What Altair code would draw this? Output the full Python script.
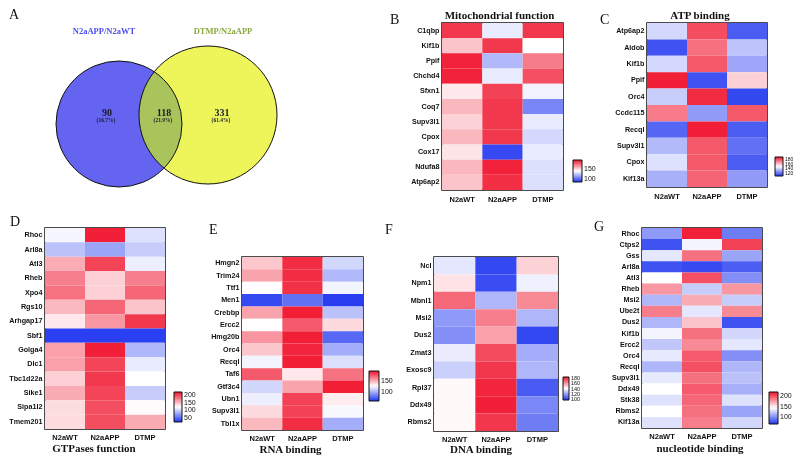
import altair as alt
import pandas as pd

SANS = "Liberation Sans"
SERIF = "Liberation Serif"
BLUE = "#1f35f0"
RED = "#f0142d"
INK = "#111111"

GROUPS = ["N2aWT", "N2aAPP", "DTMP"]

# ---------------- Venn (panel A) ----------------
VENN_SETS = ["N2aAPP/N2aWT", "DTMP/N2aAPP"]
VENN_SET_COLORS = ["#4d4df2", "#8da83f"]
VENN_COUNTS = ["90", "118", "331"]
VENN_PCTS = ["(16.7%)", "(21.9%)", "(61.4%)"]

# ---------------- heatmap values ----------------
B_GENES = ["C1qbp", "Kif1b", "Ppif", "Chchd4", "Sfxn1", "Coq7", "Supv3l1", "Cpox", "Cox17", "Ndufa8", "Atp6ap2"]
B_WT = [183, 152, 188, 188, 144, 155, 149, 155, 145, 155, 152]
B_APP = [134, 183, 121, 134, 181, 183, 183, 183, 92, 188, 185]
B_DTMP = [183, 139, 168, 178, 136, 108, 134, 129, 134, 131, 131]
B_RANGE = [87, 191]
B_TICKS = [100, 150]

C_GENES = ["Atp6ap2", "Aldob", "Kif1b", "Ppif", "Orc4", "Ccdc115", "Recql", "Supv3l1", "Cpox", "Kif13a"]
C_WT = [140, 113, 140, 187, 138, 171, 117, 134, 142, 132]
C_APP = [179, 173, 177, 113, 185, 128, 187, 177, 177, 175]
C_DTMP = [115, 136, 130, 156, 111, 177, 115, 119, 115, 128]
C_RANGE = [107, 189]
C_TICKS = [120, 140, 160, 180]

D_GENES = ["Rhoc", "Arl8a", "Atl3", "Rheb", "Xpo4", "Rgs10", "Arhgap17", "Sbf1", "Golga4", "Dlc1",
           "Tbc1d22a", "Sike1", "Sipa1l2", "Tmem201"]
D_WT = [118, 93, 157, 176, 181, 152, 132, 30, 162, 162, 142, 157, 137, 137]
D_APP = [215, 79, 200, 142, 142, 186, 166, 30, 215, 200, 205, 200, 196, 196]
D_DTMP = [108, 98, 115, 176, 186, 147, 205, 30, 88, 113, 122, 98, 124, 157]
D_RANGE = [25, 220]
D_TICKS = [50, 100, 150, 200]

E_GENES = ["Hmgn2", "Trim24", "Ttf1", "Men1", "Crebbp", "Ercc2", "Hmg20b", "Orc4", "Recql", "Taf6",
           "Gtf3c4", "Ubn1", "Supv3l1", "Tbl1x"]
E_WT = [144, 154, 128, 67, 154, 128, 158, 144, 124, 175, 114, 122, 138, 148]
E_APP = [188, 188, 187, 80, 192, 175, 192, 190, 192, 134, 154, 182, 182, 188]
E_DTMP = [114, 104, 124, 63, 107, 138, 77, 100, 117, 168, 192, 133, 125, 100]
E_RANGE = [60, 195]
E_TICKS = [100, 150]

F_GENES = ["Ncl", "Npm1", "Mbnl1", "Msi2", "Dus2", "Zmat3", "Exosc9", "Rpl37", "Ddx49", "Rbms2"]
F_WT = [135, 145, 167, 119, 117, 136, 130, 141, 141, 141]
F_APP = [102, 103, 125, 163, 157, 172, 176, 179, 180, 176]
F_DTMP = [148, 137, 161, 125, 102, 123, 125, 106, 115, 113]
F_RANGE = [98, 182]
F_TICKS = [100, 120, 140, 160, 180]

G_GENES = ["Rhoc", "Ctps2", "Gss", "Arl8a", "Atl3", "Rheb", "Msi2", "Ube2t", "Dus2", "Kif1b", "Ercc2",
           "Orc4", "Recql", "Supv3l1", "Ddx49", "Stk38", "Rbms2", "Kif13a"]
G_WT = [105, 78, 134, 78, 143, 177, 116, 185, 116, 139, 122, 135, 116, 135, 143, 132, 143, 132]
G_APP = [215, 139, 189, 75, 200, 124, 170, 134, 162, 189, 181, 196, 200, 189, 196, 192, 189, 185]
G_DTMP = [94, 204, 109, 82, 101, 177, 124, 181, 78, 128, 134, 101, 116, 120, 113, 132, 109, 128]
G_RANGE = [67, 219]
G_TICKS = [100, 150, 200]

# ---------------- layout constants (pixels) ----------------
VENN_W, VENN_H = 342, 167
VENN_CX = [74, 163]
VENN_CY = [101, 92]
VENN_R = [63, 69]
VENN_LABEL_XY = [(59, 8), (178, 8)]
VENN_COUNT_XY = [(62, 90), (119, 90), (177, 90)]


def letter(ch, x, y):
    return alt.Chart(pd.DataFrame({"t": [ch]})).mark_text(
        font=SERIF, fontSize=14, align="left", baseline="alphabetic", color=INK
    ).encode(text="t:N", x=alt.value(x), y=alt.value(y))


def title_mark(text, x, y):
    return alt.Chart(pd.DataFrame({"t": [text]})).mark_text(
        font=SERIF, fontSize=11, fontWeight="bold", align="center", baseline="alphabetic",
        color=INK
    ).encode(text="t:N", x=alt.value(x), y=alt.value(y))


def heatmap(genes, wt, app, dtmp, rng, ticks, w, h, title, leg, letters=(),
            title_y=-4, title_dx=0, xpad=5):
    n = len(genes)
    df = pd.DataFrame({
        "gene": list(genes) * 3,
        "group": [g for g in GROUPS for _ in range(n)],
        "value": list(wt) + list(app) + list(dtmp),
    })
    lo, hi = rng
    glen, thick, lx, gap, lfs = leg
    cells = alt.Chart(df).mark_rect().encode(
        x=alt.X("group:N", sort=GROUPS, title=None,
                axis=alt.Axis(orient="bottom", labelAngle=0, domain=False, ticks=False,
                              labelPadding=xpad, labelFont=SANS, labelFontSize=7.5,
                              labelFontWeight="bold", labelColor=INK)),
        y=alt.Y("gene:N", sort=list(genes), title=None,
                axis=alt.Axis(domain=False, ticks=False, labelPadding=3, labelFont=SANS,
                              labelFontSize=7.2, labelFontWeight="bold", labelColor=INK)),
        color=alt.Color("value:Q",
                        scale=alt.Scale(domain=[lo, (lo + hi) / 2, hi],
                                        range=[BLUE, "#ffffff", RED], interpolate="rgb"),
                        legend=alt.Legend(orient="none", legendX=w + lx, legendY=h - gap - glen,
                                          direction="vertical", gradientLength=glen,
                                          gradientThickness=thick, gradientStrokeColor=INK,
                                          gradientStrokeWidth=1, values=ticks,
                                          labelFontSize=lfs, labelFont=SANS, labelColor=INK,
                                          labelOverlap=False, labelPadding=2, title=None,
                                          padding=0)),
    )
    layers = [cells, title_mark(title, w / 2 + title_dx, title_y)] + [letter(*l) for l in letters]
    return alt.layer(*layers).properties(
        width=w, height=h,
        view=alt.ViewBackground(stroke=INK, strokeWidth=1.5),
    )


def spacer(w, h, letters=()):
    base = alt.Chart(pd.DataFrame({"s": [0]})).mark_point(opacity=0, size=1).encode(
        x=alt.value(1), y=alt.value(1))
    return alt.layer(base, *[letter(*l) for l in letters]).properties(width=w, height=h)


# ---------------- Venn diagram ----------------
circles = pd.DataFrame({
    "set": VENN_SETS,
    "px": VENN_CX,
    "py": VENN_CY,
    "area": [(2 * r) ** 2 for r in VENN_R],   # vega symbol size = (diameter)^2
})
enc = dict(x=alt.X("px:Q", scale=None, axis=None), y=alt.Y("py:Q", scale=None, axis=None),
           size=alt.Size("area:Q", scale=None, legend=None))
blue_base = alt.Chart(circles.iloc[[0]]).mark_circle(opacity=1, color="#8e7df0").encode(**enc)
yellow = alt.Chart(circles.iloc[[1]]).mark_circle(opacity=1, color="#eef55a").encode(**enc)
blue_tint = alt.Chart(circles.iloc[[0]]).mark_circle(opacity=1, color="#b4ccff",
                                                     blend="multiply").encode(**enc)
outlines = alt.Chart(circles).mark_point(shape="circle", filled=False, opacity=1, stroke=INK,
                                         strokeWidth=1).encode(**enc)

set_labels = pd.DataFrame({
    "t": VENN_SETS,
    "px": [p[0] for p in VENN_LABEL_XY],
    "py": [p[1] for p in VENN_LABEL_XY],
    "c": VENN_SET_COLORS,
})
set_text = alt.Chart(set_labels).mark_text(font=SERIF, fontSize=8.5, fontWeight="bold").encode(
    x=alt.X("px:Q", scale=None, axis=None), y=alt.Y("py:Q", scale=None, axis=None),
    text="t:N", color=alt.Color("c:N", scale=None, legend=None))

counts = pd.DataFrame({
    "t": VENN_COUNTS,
    "px": [p[0] for p in VENN_COUNT_XY],
    "py": [p[1] for p in VENN_COUNT_XY],
})
count_text = alt.Chart(counts).mark_text(font=SERIF, fontSize=10, fontWeight="bold",
                                         color="#1a1a2e").encode(
    x=alt.X("px:Q", scale=None, axis=None), y=alt.Y("py:Q", scale=None, axis=None), text="t:N")
pcts = pd.DataFrame({
    "t": VENN_PCTS,
    "px": [p[0] - 1 for p in VENN_COUNT_XY],
    "py": [p[1] + 7 for p in VENN_COUNT_XY],
})
pct_text = alt.Chart(pcts).mark_text(font=SERIF, fontSize=5.5, fontWeight="bold",
                                     color="#1a1a2e").encode(
    x=alt.X("px:Q", scale=None, axis=None), y=alt.Y("py:Q", scale=None, axis=None), text="t:N")

venn = alt.layer(blue_base, yellow, blue_tint, outlines, set_text, count_text, pct_text,
                 letter("A", -36, -4)).properties(width=VENN_W, height=VENN_H)

# ---------------- heatmaps ----------------
B = heatmap(B_GENES, B_WT, B_APP, B_DTMP, B_RANGE, B_TICKS, 121, 167,
            "Mitochondrial function", (22, 9, 10, 8, 7), letters=[("B", -52, 1)], title_dx=-3)
C = heatmap(C_GENES, C_WT, C_APP, C_DTMP, C_RANGE, C_TICKS, 120, 164,
            "ATP binding", (19, 8, 8, 11, 5), letters=[("C", -47, 1)], title_dx=-7)
D = heatmap(D_GENES, D_WT, D_APP, D_DTMP, D_RANGE, D_TICKS, 120, 201,
            "GTPases function", (30, 8, 9, 7, 7), letters=[("D", -35, -2)],
            title_y=201 + 23, title_dx=-11, xpad=4)
E = heatmap(E_GENES, E_WT, E_APP, E_DTMP, E_RANGE, E_TICKS, 121, 173,
            "RNA binding", (30, 10, 6, 0, 7),
            title_y=173 + 23, title_dx=-12, xpad=4)
F = heatmap(F_GENES, F_WT, F_APP, F_DTMP, F_RANGE, F_TICKS, 124, 174,
            "DNA binding", (23, 6, 5, 2, 5.5),
            title_y=174 + 22, title_dx=-15, xpad=4)
G = heatmap(G_GENES, G_WT, G_APP, G_DTMP, G_RANGE, G_TICKS, 120, 200,
            "nucleotide binding", (32, 9, 7, 4, 7), letters=[("G", -48, 3)],
            title_y=200 + 24, title_dx=-2, xpad=4)

e_col = alt.vconcat(spacer(121, 28, [("E", -33, 6), ("F", 143, 6)]), E, spacing=0)
f_col = alt.vconcat(spacer(124, 28), F, spacing=0)

row1 = alt.hconcat(venn, B, C, spacing=2).resolve_scale(color="independent").resolve_legend(
    color="independent")
row2 = alt.hconcat(D, e_col, f_col, G, spacing=12).resolve_scale(color="independent").resolve_legend(
    color="independent")

chart = alt.vconcat(row1, row2, spacing=10).resolve_scale(color="independent").resolve_legend(
    color="independent").properties(padding=0, background="white").configure_view(stroke=None)

chart.save("out.html", embed_options={"renderer": "svg", "actions": False})
